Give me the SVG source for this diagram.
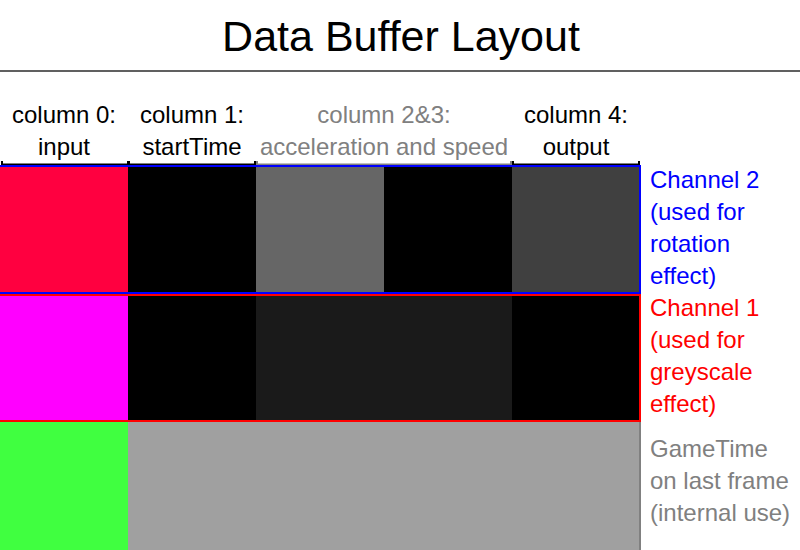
<svg xmlns="http://www.w3.org/2000/svg" width="800" height="550" viewBox="0 0 800 550">
<style>
text{font-family:"Liberation Sans",Arial,sans-serif;font-size:24px}
.c{text-anchor:middle}
.k{fill:#000}
.g{fill:#808080}
.b{fill:#0000ff}
.r{fill:#ff0000}
.br{fill:none;stroke-width:2}
</style>
<rect width="800" height="550" fill="#fff"/>
<text x="401" y="51" class="c" style="font-size:43px">Data Buffer Layout</text>
<line x1="0" y1="71" x2="800" y2="71" stroke="#606060" stroke-width="2"/>
<g id="headers">
<text x="64" y="123" class="c k">column 0:</text>
<text x="64" y="155" class="c k">input</text>
<text x="192" y="123" class="c k">column 1:</text>
<text x="192" y="155" class="c k">startTime</text>
<text x="384" y="123" class="c g">column 2&amp;3:</text>
<text x="384" y="155" class="c g">acceleration and speed</text>
<text x="576" y="123" class="c k">column 4:</text>
<text x="576" y="155" class="c k">output</text>
<path class="br" stroke="#000" d="M2,161V164.5H128V161M129,161V164.5H255V161M513,161V164.5H639V161"/>
<path class="br" stroke="#808080" d="M257,161V164.5H511V161"/>
</g>
<g id="row-channel2">
<rect x="0" y="166" width="128" height="128" fill="#ff0040"/>
<rect x="128" y="166" width="128" height="128" fill="#000"/>
<rect x="256" y="166" width="128" height="128" fill="#666666"/>
<rect x="384" y="166" width="128" height="128" fill="#000"/>
<rect x="512" y="166" width="128" height="128" fill="#404040"/>
<path class="br" stroke="#0000ff" d="M0,166H640V293H0"/>
<text x="650" y="188" class="b">Channel 2</text>
<text x="650" y="220" class="b">(used for</text>
<text x="650" y="252" class="b">rotation</text>
<text x="650" y="284" class="b">effect)</text>
</g>
<g id="row-channel1">
<rect x="0" y="294" width="128" height="128" fill="#ff00ff"/>
<rect x="128" y="294" width="128" height="128" fill="#000"/>
<rect x="256" y="294" width="256" height="128" fill="#1a1a1a"/>
<rect x="512" y="294" width="128" height="128" fill="#000"/>
<path class="br" stroke="#ff0000" d="M0,295H640V421H0"/>
<text x="650" y="316" class="r">Channel 1</text>
<text x="650" y="348" class="r">(used for</text>
<text x="650" y="380" class="r">greyscale</text>
<text x="650" y="412" class="r">effect)</text>
</g>
<g id="row-gametime">
<rect x="0" y="422" width="128" height="128" fill="#40ff40"/>
<rect x="128" y="422" width="512" height="128" fill="#a0a0a0"/>
<line x1="640" y1="422" x2="640" y2="550" stroke="#808080" stroke-width="2"/>
<text x="650" y="457" class="g">GameTime</text>
<text x="650" y="489" class="g">on last frame</text>
<text x="650" y="521" class="g">(internal use)</text>
</g>
</svg>
